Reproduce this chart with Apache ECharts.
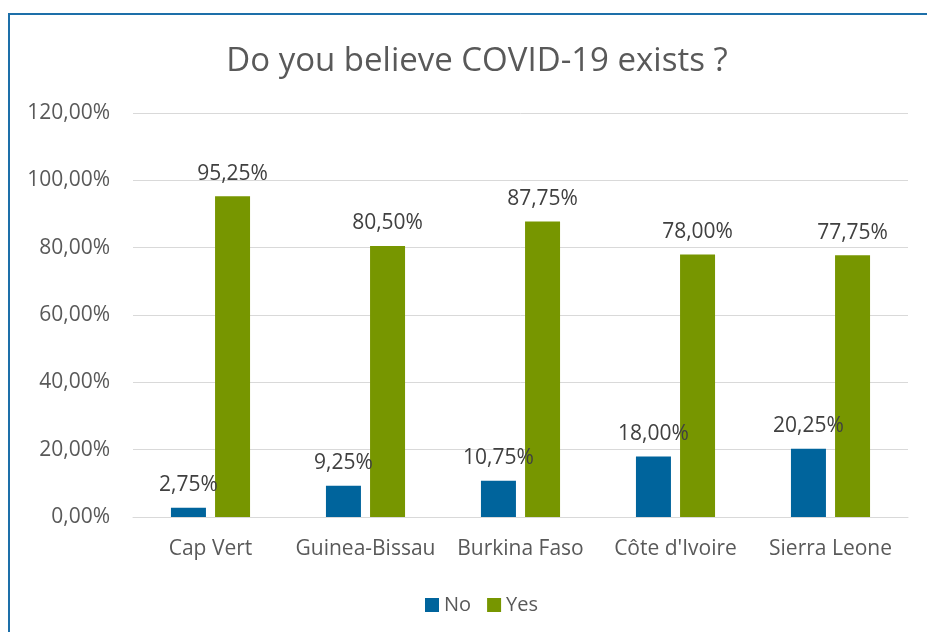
<!DOCTYPE html>
<html>
<head>
<meta charset="utf-8">
<script src="https://cdn.jsdelivr.net/npm/echarts@6/dist/echarts.min.js"></script>
<style>
html,body{margin:0;padding:0;background:#fff;}
#c{width:927px;height:632px;}
</style>
</head>
<body>
<div id="c"></div>
<script>
const categories = ['Cap Vert', 'Guinea-Bissau', 'Burkina Faso', "Côte d'Ivoire", 'Sierra Leone'];
const noValues = [2.75, 9.25, 10.75, 18.00, 20.25];
const yesValues = [95.25, 80.50, 87.75, 78.00, 77.75];
const seriesNames = ['No', 'Yes'];
const titleText = 'Do you believe COVID-19 exists ?';

const fmt = v => Number(v).toFixed(2).replace('.', ',') + '%';
const FONT = '"Open Sans"';

const chart = echarts.init(document.getElementById('c'));
const labelOpt = {
  show: true, position: 'top', distance: 12,
  color: '#404040', fontSize: 21, fontFamily: FONT,
  formatter: p => fmt(p.value)
};
chart.setOption({
  animation: false,
  backgroundColor: '#fff',
  graphic: [{
    type: 'rect', shape: {x: 9, y: 14, width: 1000, height: 1000},
    style: {fill: 'none', stroke: '#1D6FA9', lineWidth: 2}, silent: true
  }],
  title: {
    text: titleText, left: 472, top: 40, textAlign: 'center',
    textStyle: {fontFamily: FONT, fontSize: 33, fontWeight: 'normal', color: '#595959'}
  },
  legend: {
    data: seriesNames, left: 420, top: 590, itemWidth: 14, itemHeight: 14, itemGap: 16,
    icon: 'rect',
    textStyle: {fontFamily: FONT, fontSize: 20, color: '#595959'}
  },
  grid: {left: 133, right: 19, top: 113, bottom: 115, containLabel: false},
  xAxis: {
    type: 'category', data: categories,
    axisLine: {lineStyle: {color: '#d9d9d9', width: 1}},
    axisTick: {show: false},
    axisLabel: {fontFamily: FONT, fontSize: 21, color: '#595959', margin: 22, interval: 0}
  },
  yAxis: {
    type: 'value', min: 0, max: 120, interval: 20,
    axisLine: {show: false}, axisTick: {show: false},
    splitLine: {lineStyle: {color: '#d9d9d9', width: 1}},
    axisLabel: {fontFamily: FONT, fontSize: 21, color: '#595959', margin: 23, formatter: v => fmt(v)}
  },
  series: [
    {name: seriesNames[0], type: 'bar', data: noValues, barWidth: 35, barGap: '26%',
     itemStyle: {color: '#00649C'}, label: labelOpt},
    {name: seriesNames[1], type: 'bar', data: yesValues, barWidth: 35,
     itemStyle: {color: '#779600'}, label: labelOpt}
  ]
});
</script>
</body>
</html>
